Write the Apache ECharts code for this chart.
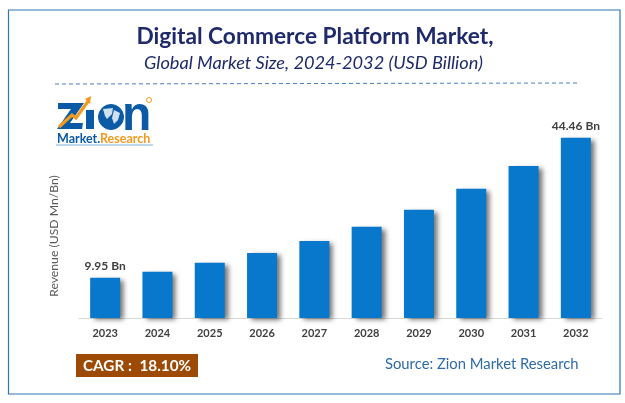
<!DOCTYPE html>
<html><head><meta charset="utf-8">
<style>html,body{margin:0;padding:0;background:#fff}#c{width:625px;height:403px}</style>
<script src="https://cdn.jsdelivr.net/npm/echarts@6/dist/echarts.min.js"></script>
</head><body><div id="c"></div>
<script>
const categories=['2023','2024','2025','2026','2027','2028','2029','2030','2031','2032'];
const revenue=[9.95,11.4,13.6,16.0,19.0,22.5,26.7,31.9,37.5,44.46];
const barLabels={0:'9.95 Bn',9:'44.46 Bn'};
const titleText='Digital Commerce Platform Market,';
const subtitleText='Global Market Size, 2024-2032 (USD Billion)';
const yName='Revenue (USD Mn/Bn)';
const cagrText='CAGR :  18.10%';
const sourceText='Source: Zion Market Research';
const F='Lato, "Open Sans", sans-serif';
const BLUE='#0b5aa5', ORANGE='#f39a1e';
const chart=echarts.init(document.getElementById('c'),null,{renderer:'canvas'});
chart.setOption({
  animation:false,backgroundColor:'#fff',
  grid:{left:79,right:23,top:100,bottom:85,containLabel:false},
  title:[
    {text:titleText,left:310,top:20,textAlign:'center',textStyle:{fontFamily:F,fontSize:22.7,fontWeight:'bold',color:'#1f2a6b'}},
    {text:subtitleText,left:308.5,top:49,textAlign:'center',textStyle:{fontFamily:F,fontSize:18.2,fontStyle:'italic',fontWeight:'normal',color:'#1f2a6b'}}
  ],
  xAxis:{type:'category',data:categories,
    axisLine:{lineStyle:{color:'#d9d9d9',width:1}},axisTick:{show:false},
    axisLabel:{margin:10,fontFamily:F,fontSize:11,fontWeight:'bold',color:'#404040'}},
  yAxis:{type:'value',min:0,max:53.76,show:false},
  series:[{type:'bar',data:revenue,barWidth:30,
    itemStyle:{color:'#0878cc',shadowColor:'rgba(0,0,0,0.55)',shadowBlur:5,shadowOffsetX:4,shadowOffsetY:2},
    label:{show:true,position:'top',distance:6,fontFamily:F,fontSize:12,fontWeight:'bold',color:'#404040',
      formatter:p=>barLabels[p.dataIndex]||''}}],
  graphic:[
    {type:'rect',shape:{x:8.5,y:10,width:611.5,height:384},style:{fill:'none',stroke:'#2e75b6',lineWidth:1.2},silent:true},
    {type:'line',shape:{x1:55,y1:84,x2:578,y2:83},style:{stroke:'#4a7fc4',lineWidth:1,lineDash:[4,3]}},
    {type:'text',x:54,y:236,rotation:Math.PI/2,style:{text:yName,align:'center',verticalAlign:'middle',fontFamily:F,fontSize:12.2,fill:'#595959'}},
    // logo
    {type:'polygon',shape:{points:[[58,103],[84,103],[70,123],[83,123],[82,129],[57,129],[71,109],[58,109]]},style:{fill:BLUE}},
    {type:'rect',shape:{x:86,y:110,width:8,height:19},style:{fill:BLUE}},
    {type:'polyline',shape:{points:[[59,127],[72,115],[76,118],[89,100]]},style:{stroke:ORANGE,fill:'none',lineWidth:3.2}},
    {type:'polygon',shape:{points:[[85,99],[91,96],[90,104]]},style:{fill:ORANGE}},
    {type:'circle',shape:{cx:111,cy:117,r:12.5},style:{fill:BLUE}},
    {type:'polygon',shape:{points:[[103,109],[113,108],[112,114],[107,119],[105,116]]},style:{fill:'#cfe0f0'}},
    {type:'polygon',shape:{points:[[114,110],[120,113],[118,120],[114,124],[112,118]]},style:{fill:'#cfe0f0'}},
    {type:'circle',shape:{cx:111,cy:117,r:12.5},style:{fill:'none',stroke:BLUE,lineWidth:1}},
    {type:'text',x:122,y:93,style:{text:'n',fontFamily:'"Liberation Sans",sans-serif',fontWeight:'bold',fontSize:48,fill:BLUE}},
    {type:'circle',shape:{cx:149,cy:100,r:2.5},style:{fill:'none',stroke:ORANGE,lineWidth:1}},
    {type:'text',x:57,y:132,style:{text:'Market.',fontFamily:F,fontWeight:'bold',fontSize:12.5,fill:BLUE}},
    {type:'text',x:100,y:132,style:{text:'Research',fontFamily:F,fontWeight:'bold',fontSize:12.5,fill:ORANGE}},
    {type:'line',shape:{x1:56,y1:145,x2:153,y2:145},style:{stroke:'#7fb2dc',lineWidth:1.2}},
    // cagr + source
    {type:'rect',shape:{x:76,y:354,width:122,height:23},style:{fill:'#9c4a06'}},
    {type:'text',x:137,y:366,style:{text:cagrText,align:'center',verticalAlign:'middle',fontFamily:F,fontSize:15.3,fontWeight:'bold',fill:'#fff'}},
    {type:'text',x:385,y:364,style:{text:sourceText,verticalAlign:'middle',fontFamily:F,fontSize:14.8,fill:'#2e6ba8'}}
  ]
});
</script></body></html>
